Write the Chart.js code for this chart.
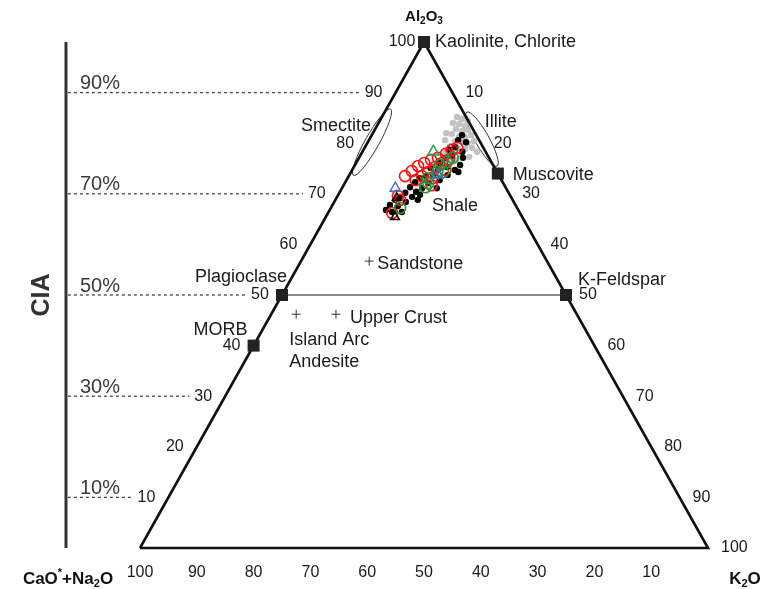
<!DOCTYPE html>
<html><head><meta charset="utf-8">
<script src="https://cdn.jsdelivr.net/npm/chart.js@4"></script>
<style>html,body{margin:0;padding:0;background:#fff;}canvas{display:block;}</style>
</head><body>
<canvas id="c" width="769" height="589"></canvas>
<script>
// All compositions are [Al2O3, K2O] in percent; CaO*+Na2O = 100 - Al2O3 - K2O
const tickValues = [10,20,30,40,50,60,70,80,90,100];
const ciaLevels = [10,30,50,70,90];
const ciaLabels = ['10%','30%','50%','70%','90%'];

const mineralNames = ['Kaolinite, Chlorite','Plagioclase','K-Feldspar','Muscovite','MORB'];
const mineralComp = [[100,0],[50,0],[50,50],[74,26],[40,0]];

const rockNames = ['Sandstone','Upper Crust','Island Arc Andesite'];
const rockComp = [[56.7,12.0],[46.2,11.4],[46.2,4.4]];

const grayPts = [[85.2,13.2],[84.8,14.3],[84.0,13.1],[83.8,14.3],[83.4,15.5],[82.8,14.2],[82.4,15.5],[82.6,16.4],
  [81.8,14.0],[81.4,15.5],[81.2,16.6],[81.6,17.5],[80.4,15.3],[80.2,16.6],[80.0,17.7],[80.4,18.6],[79.4,14.9],
  [79.1,16.4],[78.9,17.8],[79.1,18.9],[78.3,20.2],[78.3,14.7],[77.9,16.1],[77.7,17.8],[77.3,19.3],[77.1,14.8],
  [76.5,16.3],[76.1,14.4],[75.5,13.6],[76.7,17.3],[80.6,13.4],[84.4,15.5],[82.0,12.9]];

const blackDots = [[81.6,15.9],[80.2,17.3],[80.6,15.7],[79.2,15.9],[78.3,17.6],[77.1,18.3],[78.7,15.0],[77.5,16.2],
  [77.1,15.2],[76.1,14.8],[75.3,16.4],[74.7,15.1],[75.1,13.6],[73.7,14.8],[73.5,13.6],[73.1,12.7],[72.1,14.7],
  [72.3,12.3],[71.1,14.1],[71.3,11.9],[70.4,13.4],[70.2,11.6],[69.4,13.2],[69.2,11.2],[68.4,12.6],[68.8,10.5],
  [67.6,11.6],[67.8,10.1],[66.4,11.2],[66.8,9.9],[72.7,16.4],[73.7,17.3],[74.7,18.1],[71.1,16.7],[69.8,14.4],
  [68.8,14.5],[66.4,12.9],[75.7,18.5],[74.3,18.9]];

const redCircles = [[66.2,11.3],[68.8,11.4],[73.5,9.9],[74.5,10.6],[75.5,11.2],[76.1,12.0],[76.7,12.9],[77.1,13.9],
  [77.9,14.9],[78.7,15.6],[76.7,16.0],[76.1,15.1],[75.3,14.3],[74.3,13.6],[73.5,12.9],[72.7,12.2],[73.1,15.0],
  [74.7,16.4],[71.7,15.5],[69.6,10.6],[79.1,16.3]];

const greenCircles = [[77.1,16.5],[76.3,15.9],[75.7,15.0],[74.3,15.2],[74.3,16.2],[73.1,14.1],[71.3,14.6],[72.1,14.7],[67.2,12.2]];
const greenTriangles = [[78.3,12.5]];
const blueTriangles = [[71.1,9.4],[73.7,15.6]];
const blackTriangles = [[65.4,12.2],[69.2,10.6]];

const toXY = (a,k) => ({x: k + a/2, y: a});
const pts = arr => arr.map(p => toXY(p[0], p[1]));

const FONT = '"Liberation Sans", Arial, sans-serif';

function richText(ctx, parts, x, y, align, size, bold){
  const w = bold ? 'bold ' : '';
  let total = 0;
  parts.forEach(p => { ctx.font = w + (p[1]==='n'?size:Math.round(size*0.65)) + 'px ' + FONT; total += ctx.measureText(p[0]).width; });
  let cx = align==='center' ? x - total/2 : (align==='right' ? x - total : x);
  ctx.textAlign = 'left';
  parts.forEach(p => {
    const s = p[1]==='n'?size:Math.round(size*0.65);
    ctx.font = w + s + 'px ' + FONT;
    const dy = p[1]==='sub' ? size*0.3 : (p[1]==='sup' ? -size*0.35 : 0);
    ctx.fillText(p[0], cx, y + dy);
    cx += ctx.measureText(p[0]).width;
  });
}

const decor = {
  id: 'decor',
  beforeDatasetsDraw(chart){
    const ctx = chart.ctx, sx = chart.scales.x, sy = chart.scales.y;
    const P = (a,k) => { const p = toXY(a,k); return [sx.getPixelForValue(p.x), sy.getPixelForValue(p.y)]; };
    const [blx, bly] = P(0,0), [tx, ty] = P(100,0), [brx, bry] = P(0,100);
    const angL = Math.atan2(ty - bly, tx - blx);
    const angR = Math.atan2(bry - ty, brx - tx);
    ctx.save();
    ctx.strokeStyle = '#333'; ctx.lineWidth = 1;
    let [cx, cy] = P(80.2, 0.75);
    ctx.beginPath(); ctx.ellipse(cx, cy, 38, 7, angL, 0, Math.PI*2); ctx.stroke();
    [cx, cy] = P(80.8, 19.8);
    ctx.beginPath(); ctx.ellipse(cx, cy, 31, 7, angR, 0, Math.PI*2); ctx.stroke();
    ctx.restore();
  },
  afterDatasetsDraw(chart){
    const ctx = chart.ctx, sx = chart.scales.x, sy = chart.scales.y;
    const P = (a,k) => { const p = toXY(a,k); return [sx.getPixelForValue(p.x), sy.getPixelForValue(p.y)]; };
    ctx.save();
    ctx.fillStyle = '#1a1a1a';
    ctx.textBaseline = 'middle';
    ctx.font = '16px ' + FONT;
    tickValues.forEach(v => { const [x,y] = P(v,0); ctx.textAlign='center'; ctx.fillText(String(v), x-22, y); });
    tickValues.forEach(v => { const [x,y] = P(100-v,v); ctx.textAlign='left'; ctx.fillText(String(v), x+13, y); });
    tickValues.forEach(v => { const [x,y] = P(0,100-v); ctx.textAlign='center'; ctx.fillText(String(v), x, y+25); });

    ctx.fillStyle = '#3a3a3a';
    ctx.font = '20px ' + FONT;
    ctx.textAlign = 'left';
    ciaLevels.forEach((v,i) => { const y = sy.getPixelForValue(v); ctx.fillText(ciaLabels[i], 80, y - 9); });

    ctx.save();
    ctx.translate(41, sy.getPixelForValue(50));
    ctx.rotate(-Math.PI/2);
    ctx.font = 'bold 25px ' + FONT;
    ctx.textAlign = 'center';
    ctx.fillStyle = '#333';
    ctx.fillText('CIA', 0, 1);
    ctx.restore();

    ctx.fillStyle = '#1a1a1a';
    ctx.font = '18px ' + FONT;
    const m = mineralComp.map(c => P(c[0], c[1]));
    ctx.textAlign='left';  ctx.fillText(mineralNames[0], m[0][0]+11, m[0][1]);
    ctx.textAlign='right'; ctx.fillText(mineralNames[1], m[1][0]+5, m[1][1]-18);
    ctx.textAlign='left';  ctx.fillText(mineralNames[2], m[2][0]+12, m[2][1]-15);
    ctx.textAlign='left';  ctx.fillText(mineralNames[3], m[3][0]+15, m[3][1]+1);
    ctx.textAlign='right'; ctx.fillText(mineralNames[4], m[4][0]-6, m[4][1]-16);

    const r = rockComp.map(c => P(c[0], c[1]));
    ctx.textAlign='left';
    ctx.fillText(rockNames[0], r[0][0]+8, r[0][1]+3);
    ctx.fillText(rockNames[1], r[1][0]+14, r[1][1]+4);
    ctx.fillText('Island Arc', r[2][0]-7, r[2][1]+26);
    ctx.fillText('Andesite', r[2][0]-7, r[2][1]+48);

    let [x,y] = P(67.6,17.6); ctx.fillText('Shale', x, y);
    [x,y] = P(84.2,18.6); ctx.fillText('Illite', x, y);
    [x,y] = P(80.2,0.75); ctx.textAlign='right'; ctx.fillText('Smectite', x-1, y-16);

    ctx.fillStyle = '#111';
    [x,y] = P(100,0);
    richText(ctx, [['Al','n'],['2','sub'],['O','n'],['3','sub']], x, y-25, 'center', 15, true);
    [x,y] = P(0,0);
    richText(ctx, [['CaO','n'],['*','sup'],['+Na','n'],['2','sub'],['O','n']], x-72, y+31, 'center', 17, true);
    [x,y] = P(0,100);
    richText(ctx, [['K','n'],['2','sub'],['O','n']], x+37, y+31, 'center', 17, true);
    ctx.restore();
  }
};

const triangle = pts([[0,0],[0,100],[100,0],[0,0]]);
const feldsparLine = pts([mineralComp[1], mineralComp[2]]);
const ciaAxis = [{x:-13.03, y:0}, {x:-13.03, y:100}];

const datasets = [
  {data: pts(mineralComp), pointStyle:'rect', pointRadius:8.5, backgroundColor:'#222', borderColor:'#222', borderWidth:0, order:0},
  {data: pts(rockComp), pointStyle:'cross', pointRadius:4.5, borderColor:'#333', borderWidth:1, order:1},
  {data: triangle, showLine:true, borderColor:'#111', borderWidth:2.6, pointRadius:0, borderJoinStyle:'miter', order:2},
  {data: feldsparLine, showLine:true, borderColor:'#8a8a8a', borderWidth:2.2, pointRadius:0, order:3},
  {data: ciaAxis, showLine:true, borderColor:'#333', borderWidth:3, pointRadius:0, order:4},
  {data: pts(blackTriangles), pointStyle:'triangle', pointRadius:5, borderColor:'#000', backgroundColor:'rgba(0,0,0,0)', borderWidth:1.5, order:5},
  {data: pts(blueTriangles), pointStyle:'triangle', pointRadius:6, borderColor:'#4a6ad8', backgroundColor:'rgba(0,0,0,0)', borderWidth:1.5, order:6},
  {data: pts(greenTriangles), pointStyle:'triangle', pointRadius:6.5, borderColor:'#1faa45', backgroundColor:'rgba(0,0,0,0)', borderWidth:1.5, order:7},
  {data: pts(greenCircles), pointStyle:'circle', pointRadius:5.5, borderColor:'#1a9a3c', backgroundColor:'rgba(0,0,0,0)', borderWidth:1.6, order:8},
  {data: pts(redCircles), pointStyle:'circle', pointRadius:5.5, borderColor:'#ff1010', backgroundColor:'rgba(0,0,0,0)', borderWidth:1.6, order:9},
  {data: pts(blackDots), pointStyle:'circle', pointRadius:3.2, backgroundColor:'#000', borderWidth:0, order:10},
  {data: pts(grayPts), pointStyle:'circle', pointRadius:3.2, backgroundColor:'#c2c2c2', borderWidth:0, order:11}
];
ciaLevels.forEach((v,i) => {
  datasets.push({data:[{x:-12.7, y:v},{x:v/2 - 6.3, y:v}], showLine:true, borderColor:'#444', borderWidth:1.3, borderDash:[3,3], pointRadius:0, order:12+i});
});

new Chart(document.getElementById('c'), {
  type: 'scatter',
  data: {datasets},
  options: {
    responsive: false, animation: false, events: [],
    layout: {padding: 0, autoPadding: false},
    plugins: {legend:{display:false}, tooltip:{enabled:false}},
    scales: {
      x: {type:'linear', display:false, min:-24.648, max:110.739},
      y: {type:'linear', display:false, min:-8.103, max:108.300}
    }
  },
  plugins: [decor]
});
</script>
</body></html>
